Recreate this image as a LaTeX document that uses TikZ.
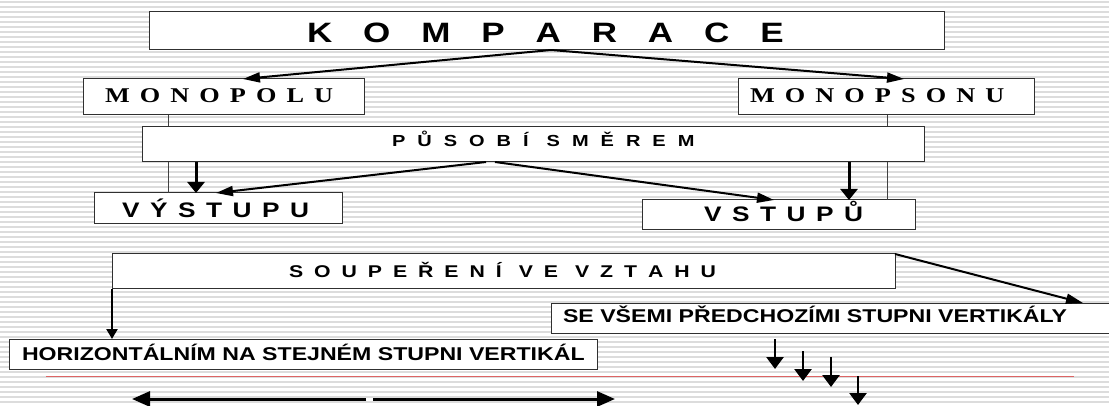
\documentclass[tikz,border=0pt]{standalone}
\usepackage{fontspec}
\usetikzlibrary{arrows.meta,calc}
\newfontfamily\ars[FakeStretch=1.25]{Liberation Sans}
\newfontfamily\tms[FakeStretch=1.25]{Liberation Serif}
\newlength\gapl
\newcommand\gp{\hspace{\gapl}}
\definecolor{boxc}{HTML}{303030}
\definecolor{linec}{HTML}{404040}
\definecolor{stripec}{HTML}{DCDCDC}
\definecolor{redc}{HTML}{DC6464}
\begin{document}
\begin{tikzpicture}[x=1pt,y=-1pt,
  box/.style={draw=boxc,line width=1pt,fill=white,inner sep=0pt,outer sep=0pt},
  txt/.style={anchor=base west,inner sep=0pt,outer sep=0pt},
  thinln/.style={draw=linec,line width=1pt},
  thickarr/.style={line width=3pt,-{Triangle[length=11pt,width=17pt]}},
  smallarr/.style={line width=2.7pt,-{Triangle[length=12pt,width=17pt]}},
  downarr/.style={line width=2.5pt,-{Triangle[length=10pt,width=11pt]}},
  horarr/.style={line width=3pt,-{Triangle[length=18pt,width=15pt]}},
  diagarr/.style={line width=2pt,-{Triangle[length=17pt,width=10pt]}},
  stripe/.style={draw=stripec,line width=2pt}]
\useasboundingbox (0,0) rectangle (1109,406);
\clip (0,0) rectangle (1109,406);
\fill[white] (0,0) rectangle (1109,406);
\foreach \k in {0,...,81} \draw[stripe] (0,2+5*\k) -- (1109,2+5*\k);

% boxes
\node[box,minimum width=795pt,minimum height=38pt] (kom) at (546.5,31) {};
\node[box,minimum width=281pt,minimum height=36pt] (mpl) at (223.5,97) {};
\node[box,minimum width=296pt,minimum height=36pt] (mps) at (886,97) {};
\node[box,minimum width=248pt,minimum height=31pt] (vys) at (218,208.5) {};
\node[box,minimum width=273pt,minimum height=30pt] (vst) at (778.5,215) {};
% thin lines behind the middle box
\draw[thinln] ($(mpl.south west)+(85,0)$) -- ($(vys.north west)+(74,0)$);
\draw[thinln] ($(mps.south west)+(149,0)$) -- ($(vst.north west)+(245,0)$);
\node[box,minimum width=782pt,minimum height=35pt] (pus) at (533,144.5) {};
\node[box,minimum width=783pt,minimum height=35pt] (sou) at (503.5,271.5) {};
\node[box,minimum width=564pt,minimum height=30pt] (sev) at (833,318) {};
\node[box,minimum width=588pt,minimum height=30pt] (hor) at (303,354) {};

% texts
\node[txt,font=\ars\bfseries\fontsize{28}{30}\selectfont] (t1) at (307,42.5)
  {\setlength\gapl{30.9pt}K\gp O\gp M\gp P\gp A\gp R\gp A\gp C\gp E};
\node[txt,font=\tms\bfseries\fontsize{21}{23}\selectfont] (t2) at (105,103)
  {\setlength\gapl{10.1pt}M\gp O\gp N\gp O\gp P\gp O\gp L\gp U};
\node[txt,font=\tms\bfseries\fontsize{21}{23}\selectfont] (t3) at (750,103)
  {\setlength\gapl{10.1pt}M\gp O\gp N\gp O\gp P\gp S\gp O\gp N\gp U};
\node[txt,font=\ars\bfseries\fontsize{16}{18}\selectfont] (t4) at (392,146.7)
  {\setlength\gapl{12pt}P\gp Ů\gp S\gp O\gp B\gp Í\hspace{18pt}S\gp M\gp Ě\gp R\gp E\gp M};
\node[txt,font=\ars\bfseries\fontsize{21}{23}\selectfont] (t5) at (122,217.5)
  {\setlength\gapl{10.5pt}V\gp Ý\gp S\gp T\gp U\gp P\gp U};
\node[txt,font=\ars\bfseries\fontsize{21}{23}\selectfont] (t6) at (704,222)
  {\setlength\gapl{10.5pt}V\gp S\gp T\gp U\gp P\gp Ů};
\node[txt,font=\ars\bfseries\fontsize{17}{19}\selectfont] (t7) at (289,278)
  {\setlength\gapl{10.96pt}S\gp O\gp U\gp P\gp E\gp Ř\gp E\gp N\gp Í\hspace{16.96pt}V\gp E\hspace{16.96pt}V\gp Z\gp T\gp A\gp H\gp U};
\node[txt,font=\ars\bfseries\fontsize{18.5}{20}\selectfont] (t8) at (22,360.6)
  {HORIZONTÁLNÍM NA STEJNÉM STUPNI VERTIKÁL};
\node[txt,font=\ars\bfseries\fontsize{18.5}{20}\selectfont] (t9) at (563,322.6)
  {SE VŠEMI PŘEDCHOZÍMI STUPNI VERTIKÁLY};

% connectors
\coordinate (ka) at ($(kom.south west)+(402,0)$);
\draw[diagarr] (ka) -- ($(mpl.north west)+(160,0)$);
\draw[diagarr] (ka) -- ($(mps.north west)+(166,0)$);
\draw[thickarr] ($(pus.south west)+(54,0)$) -- ($(vys.north west)+(102,0)$);
\draw[thickarr] ($(pus.south west)+(707,0)$) -- ($(vst.north west)+(207,0)$);
\draw[diagarr] ($(pus.south west)+(344,0)$) -- ($(vys.north west)+(122,0)$);
\draw[diagarr] ($(pus.south west)+(353,0)$) -- ($(vst.north west)+(132,0)$);
\draw[diagarr] (sou.north east) -- ($(sev.north west)+(532,0)$);
\draw[downarr] (sou.south west) -- ($(hor.north west)+(103,0)$);

% red line
\draw[redc,line width=1pt] (46,376) -- (1074,376);

% bottom horizontal arrows
\coordinate (b1) at (366,399); \coordinate (b1e) at (132,399);
\coordinate (b2) at (373,399); \coordinate (b2e) at (615,399);
\draw[horarr] (b1) -- (b1e);
\draw[horarr] (b2) -- (b2e);

% small down arrows
\coordinate (s1) at (775,339); \coordinate (s1e) at (775,369);
\coordinate (s2) at (803,351); \coordinate (s2e) at (803,381);
\coordinate (s3) at (831,357); \coordinate (s3e) at (831,387);
\coordinate (s4) at (858,376); \coordinate (s4e) at (858,405);
\draw[smallarr] (s1) -- (s1e);
\draw[smallarr] (s2) -- (s2e);
\draw[smallarr] (s3) -- (s3e);
\draw[smallarr] (s4) -- (s4e);
\end{tikzpicture}
\end{document}
